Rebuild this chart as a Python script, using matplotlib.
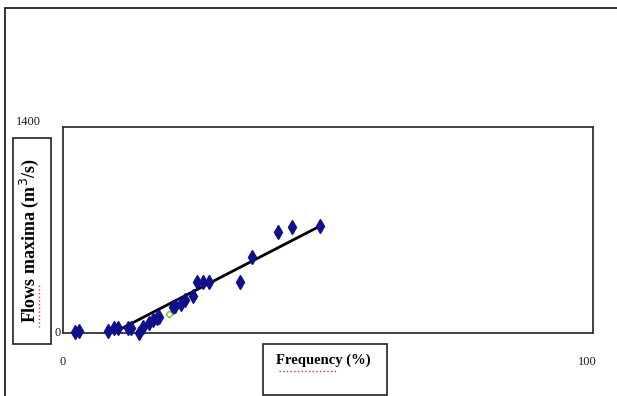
import matplotlib.pyplot as plt
import numpy as np
from matplotlib.patches import Rectangle

# Frequency (%) vs maximum flow (m3/s)
freq = [2.3, 3.0, 8.4, 9.7, 10.4, 12.3, 12.8, 14.3, 15.0, 16.3, 17.0, 17.7,
        18.2, 20.8, 21.1, 22.2, 23.0, 24.5, 25.2, 26.4, 27.5, 33.4, 35.7,
        40.5, 43.3, 48.4]
flow = [5, 14, 14, 36, 36, 36, 32, 0, 43, 66, 88, 104, 111, 179, 184, 195,
        224, 252, 349, 349, 349, 349, 519, 689, 718, 727]
# single odd point drawn in green
freq_g = [20.0]
flow_g = [129]

x_ticks = [0, 100]
y_ticks = [0, 1400]

W, H = 617, 396
fig = plt.figure(figsize=(W / 100, H / 100), dpi=100)
serif = "Liberation Serif"

# outer frame of the chart object (cut on right and bottom)
fig.patches.append(Rectangle((5 / W, -0.1), 1.2, 1.1 - 8 / H,
                             transform=fig.transFigure, fill=False,
                             edgecolor="#222222", lw=1.3))

ax = fig.add_axes([63 / W, 1 - 333 / H, 530 / W, 206 / H])
ax.set_xlim(x_ticks)
ax.set_ylim(y_ticks)
for s in ax.spines.values():
    s.set_color("#333333")
    s.set_linewidth(1.3)
ax.set_xticks(x_ticks, labels=[])
ax.set_yticks(y_ticks, labels=[])
ax.tick_params(length=0)

# trend line (least squares)
k, b = np.polyfit(freq, flow, 1)
xs = np.array([min(freq), max(freq)])
ax.plot(xs, k * xs + b, color="black", lw=2, zorder=2)

ax.plot(freq, flow, linestyle="none", marker="d", ms=7,
        color="#10108a", clip_on=False, zorder=3)
ax.plot(freq_g, flow_g, linestyle="none", marker="D", ms=3.5,
        mfc="none", mec="#6fbf3f", mew=1, clip_on=False, zorder=3)

# tick labels placed where the original put them
tk = dict(family=serif, fontsize=9, color="#1a1a2a")
ax.text(-35 / 530 * 100, 1400 + 5 / 206 * 1400, "1400", ha="center",
        va="center", **tk)
ax.text(-5 / 530 * 100, 0, "0", ha="center", va="center", **tk)
ax.text(0, -29 / 206 * 1400, "0", ha="center", va="center", **tk)
ax.text(100 - 1.0, -29 / 206 * 1400, "100", ha="center", va="center", **tk)

# axis title boxes
fig.patches.append(Rectangle((13 / W, 1 - 344 / H), 38 / W, 206 / H,
                             transform=fig.transFigure, fill=False,
                             edgecolor="#222222", lw=1.2))
fig.text(29 / W, 1 - 241 / H, "Flows maxima (m$^3$/s)", rotation=90,
         ha="center", va="center", family=serif, fontsize=13,
         fontweight="bold")
fig.patches.append(Rectangle((263 / W, 1 - 395 / H), 124 / W, 51 / H,
                             transform=fig.transFigure, fill=False,
                             edgecolor="#222222", lw=1.2))
fig.text(323 / W, 1 - 360 / H, "Frequency (%)", ha="center", va="center",
         family=serif, fontsize=10.5, fontweight="bold")

# spell-check squiggles under the two titles
fig.add_artist(plt.Line2D([39 / W, 39 / W], [1 - 327 / H, 1 - 284 / H],
                          color="#e03030", lw=1, ls=":",
                          transform=fig.transFigure))
fig.add_artist(plt.Line2D([279 / W, 336 / W], [1 - 371 / H, 1 - 371 / H],
                          color="#e03030", lw=1, ls=":",
                          transform=fig.transFigure))

fig.savefig("out.png", dpi=100)
